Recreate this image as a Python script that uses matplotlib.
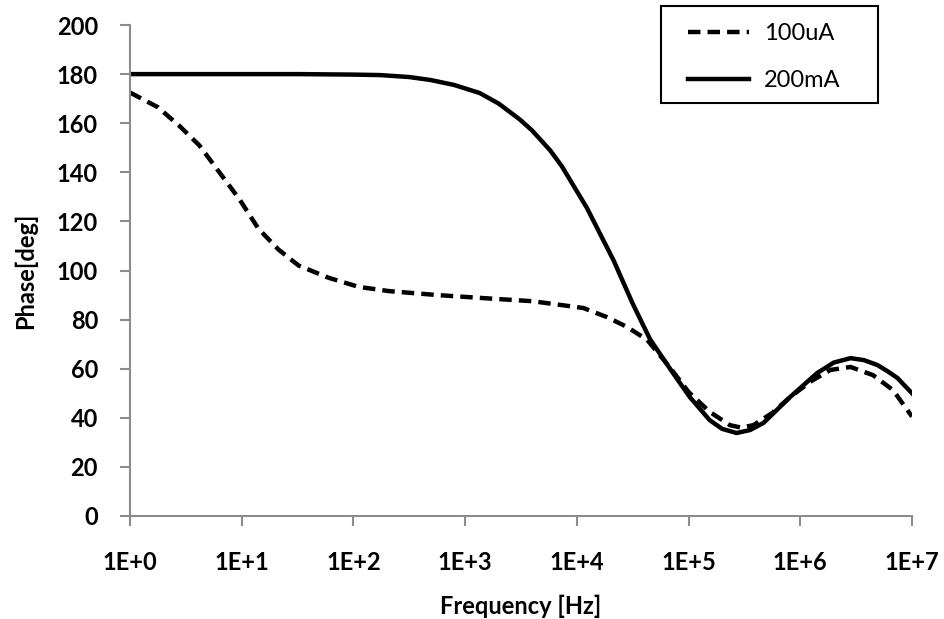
import numpy as np
import matplotlib

matplotlib.use('Agg')
import matplotlib.pyplot as plt
from matplotlib.patches import Rectangle

# frequency positions as decade exponents (f = 10**exp), phase in degrees
exp_100ua = [0, 0.25, 0.44, 0.62, 0.80, 0.98, 1.15, 1.33, 1.51, 1.78, 2.05, 2.32,
             2.75, 3.25, 3.6, 3.85, 4.06, 4.27, 4.45, 4.63, 4.83, 5.0, 5.19, 5.37,
             5.47, 5.58, 5.75, 5.91, 6.1, 6.27, 6.45, 6.65, 6.83, 7.0]
phase_100ua = [172.5, 166.5, 159, 151, 140, 129, 117, 108.5, 102, 97, 93.3, 91.6,
               90, 88.5, 87.5, 86, 84.7, 81, 77, 71.7, 60.7, 50.5, 42.4, 37,
               36, 37, 42, 48.5, 55, 59.5, 60.7, 57.4, 51.3, 40.5]

exp_200ma = [0, 0.5, 1, 1.5, 2, 2.24, 2.5, 2.69, 2.9, 3.13, 3.3, 3.49, 3.6, 3.76,
             3.865, 4.09, 4.33, 4.5, 4.655, 4.864, 5.01, 5.19, 5.3, 5.43, 5.55, 5.67,
             5.91, 6.15, 6.3, 6.45, 6.57, 6.69, 6.78, 6.87, 7.0]
phase_200ma = [180, 180, 180, 180, 179.8, 179.6, 178.8, 177.6, 175.6, 172.3, 168,
               161.5, 157, 149, 142.5, 125.5, 104, 86.5, 72, 58, 48.5, 39, 35.5,
               33.8, 35, 37.9, 48.5, 58.2, 62.5, 64.3, 63.5, 61.5, 59, 56.2, 50]

decades = [0, 1, 2, 3, 4, 5, 6, 7]
yticks = list(range(0, 201, 20))

plt.rcParams['font.family'] = ['Lato', 'DejaVu Sans']

fig = plt.figure(figsize=(9.44, 6.19), dpi=100)
ax = fig.add_axes([0.1377, 0.1664, 0.8284, 0.7932])

f1 = 10.0 ** np.array(exp_100ua)
f2 = 10.0 ** np.array(exp_200ma)
ax.plot(f1, phase_100ua, color='black', lw=3.2, dashes=(2.8, 1.6), label='100uA')
ax.plot(f2, phase_200ma, color='black', lw=3.2, label='200mA')

ax.set_xscale('log')
ax.set_xlim(1, 1e7)
ax.set_ylim(0, 200)
ax.set_xticks([10.0 ** d for d in decades])
ax.set_xticklabels(['1E+%d' % d for d in decades])
ax.minorticks_off()
ax.set_yticks(yticks)

for s in ['top', 'right']:
    ax.spines[s].set_visible(False)
for s in ['left', 'bottom']:
    ax.spines[s].set_color('#8c8c8c')
    ax.spines[s].set_linewidth(1.5)

ax.tick_params(axis='both', colors='#8c8c8c', width=1.5, length=7, labelcolor='black')
ax.tick_params(axis='y', pad=16)
ax.tick_params(axis='x', pad=18)
for lab in ax.get_xticklabels() + ax.get_yticklabels():
    lab.set_fontsize(17)
    lab.set_fontweight('bold')

ax.set_xlabel('Frequency [Hz]', fontsize=17, fontweight='bold', labelpad=15)
ax.set_ylabel('Phase[deg]', fontsize=17, fontweight='bold', labelpad=14)

# legend box drawn separately so horizontal and vertical padding can differ
fig.patches.append(Rectangle((661 / 944, 1 - 103 / 619), 217 / 944, 97 / 619,
                             transform=fig.transFigure, fill=False,
                             edgecolor='black', linewidth=1.5))
leg = ax.legend(loc='upper left', bbox_to_anchor=(688 / 944, 1 - 23 / 619),
                bbox_transform=fig.transFigure, fontsize=17, frameon=False,
                handlelength=2.6, handletextpad=0.6, labelspacing=1.11,
                borderpad=0, borderaxespad=0)

fig.savefig('out.png', dpi=100)
